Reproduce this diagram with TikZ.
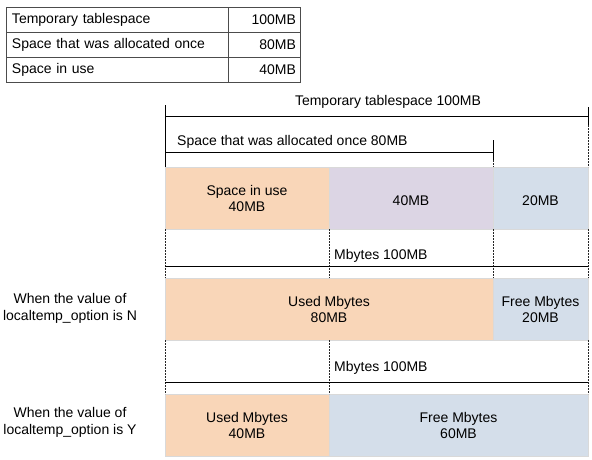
\documentclass[tikz,border=0pt]{standalone}
\usepackage{fontspec}
\setmainfont{Liberation Sans}
\usetikzlibrary{positioning}
\definecolor{usedfill}{HTML}{F9D6B8}
\definecolor{oncefill}{HTML}{DCD5E4}
\definecolor{freefill}{HTML}{D4DEEA}

\begin{document}
\begin{tikzpicture}[x=1pt, y=-1pt,
    every node/.style={font=\fontsize{14}{16}\selectfont},
    cell/.style={rectangle, draw=black!70, line width=0.8pt, minimum height=25pt, inner ysep=0pt, outer sep=0pt},
    bar/.style={rectangle, draw=black!15, minimum height=62pt, inner sep=0pt, outer sep=0pt, align=center},
    dim/.style={line width=0.8pt},
    ext/.style={dash pattern=on 2pt off 1pt, line width=0.8pt, black!85}]
    \useasboundingbox (0,0) rectangle (592,460);

    % Table
    \node (name1) [cell, anchor=north west, text width=210pt, inner xsep=6pt, align=left] at (6,7) {Temporary tablespace};
    \node (name2) [cell, text width=210pt, inner xsep=6pt, align=left, below=0pt of name1] {Space that was allocated once};
    \node (name3) [cell, text width=210pt, inner xsep=6pt, align=left, below=0pt of name2] {Space in use};
    \node (size1) [cell, text width=64pt, inner xsep=4pt, align=right, right=0pt of name1] {100MB};
    \node (size2) [cell, text width=64pt, inner xsep=4pt, align=right, right=0pt of name2] {80MB};
    \node (size3) [cell, text width=64pt, inner xsep=4pt, align=right, right=0pt of name3] {40MB};

    % Bars
    \node (use1) [bar, fill=usedfill, minimum width=164pt, anchor=north west] at (165,167) {Space in use\\40MB};
    \node (once1) [bar, fill=oncefill, minimum width=164pt, right=0pt of use1] {\mbox{}\\40MB};
    \node (free1) [bar, fill=freefill, minimum width=95pt, right=0pt of once1] {\mbox{}\\20MB};
    \node (used2) [bar, fill=usedfill, minimum width=328pt, anchor=north west] at (165,278) {Used Mbytes\\80MB};
    \node (free2) [bar, fill=freefill, minimum width=95pt, right=0pt of used2] {Free Mbytes\\20MB};
    \node (used3) [bar, fill=usedfill, minimum width=164pt, anchor=north west] at (165,394) {Used Mbytes\\40MB};
    \node (free3) [bar, fill=freefill, minimum width=259pt, right=0pt of used3] {Free Mbytes\\60MB};

    % Labels
    \node (optN) [align=center, font=\fontsize{14}{17}\selectfont] at (70,308) {When the value of\\localtemp\_option is N};
    \node (optY) [align=center, font=\fontsize{14}{17}\selectfont] at (70,422) {When the value of\\localtemp\_option is Y};
    \node (tsText) at (388,102) {Temporary tablespace 100MB};
    \node (onceText) [anchor=west, inner sep=0pt] at (177,142) {Space that was allocated once 80MB};
    \node (mb2Text) [anchor=west, inner sep=0pt] at (334,256) {Mbytes 100MB};
    \node (mb3Text) [anchor=west, inner sep=0pt] at (334,368) {Mbytes 100MB};

    % Dimension lines
    \coordinate (tsL) at (165,105);
    \coordinate (tsR) at (588,107);
    \coordinate (tsRend) at (588,125);
    \coordinate (onceR) at (493,140);
    \coordinate (onceRend) at (493,160);
    \draw[dim] (tsL) -- (use1.north west);
    \draw[dim] (tsR) -- (tsRend);
    \draw[ext] (tsRend) -- (free1.north east);
    \draw[dim] (onceR) -- (onceRend);
    \draw[ext] (onceRend) -- (once1.north east);
    \draw[dim] (165,116) -- (588,116);
    \draw[dim] (165,152) -- (493,152);

    \draw[ext] (use1.south west) -- (used2.north west);
    \draw[ext] (use1.south east) -- (use1.south east |- used2.north);
    \draw[ext] (once1.south east) -- (used2.north east);
    \draw[ext] (free1.south east) -- (free2.north east);
    \draw[dim] (165,266) -- (588,266);

    \draw[ext] (used2.south west) -- (used3.north west);
    \draw[ext] (used3.north east |- used2.south) -- (used3.north east);
    \draw[ext] (free2.south east) -- (free3.north east);
    \draw[dim] (165,382) -- (588,382);
\end{tikzpicture}
\end{document}
